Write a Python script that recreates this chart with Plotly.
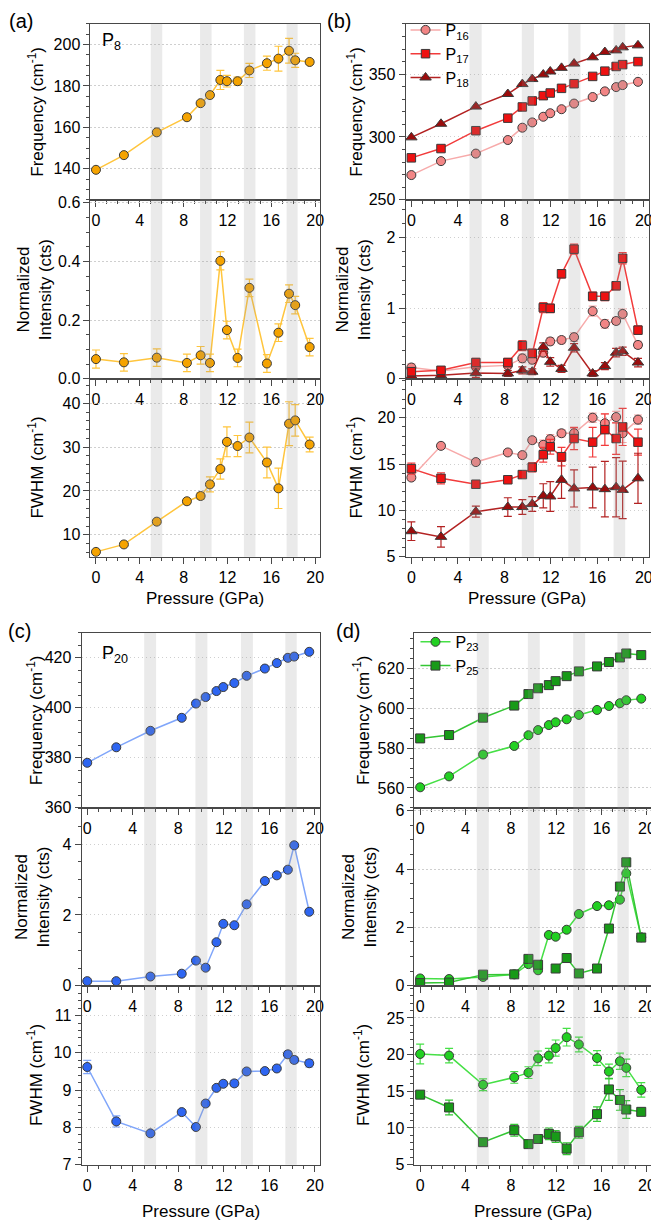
import plotly.graph_objects as go

# ---------------- data ----------------
pressure = [0, 2.55, 5.55, 8.3, 9.55, 10.4, 11.35, 11.95, 12.92, 14.0, 15.6, 16.65, 17.62, 18.18, 19.5]
bands = [(5.0, 6.05), (9.5, 10.55), (13.5, 14.55), (17.4, 18.4)]

# (a) P8
p8_freq = [139.5, 146.6, 157.6, 164.9, 171.7, 175.6, 182.9, 182.3, 182.3, 187.5, 191.0, 193.2, 197.0, 192.4, 191.6]
p8_freq_err = [0.8, 0.8, 0.8, 0.8, 0.8, 0.8, 4.6, 2.8, 2.0, 3.4, 3.4, 6.0, 6.0, 3.4, 1.0]
p8_int = [0.067, 0.056, 0.072, 0.054, 0.080, 0.054, 0.402, 0.166, 0.071, 0.310, 0.052, 0.157, 0.290, 0.251, 0.108]
p8_int_err = [0.031, 0.030, 0.030, 0.030, 0.030, 0.030, 0.031, 0.030, 0.030, 0.030, 0.030, 0.030, 0.030, 0.030, 0.030]
p8_fwhm = [6.1, 7.8, 13.0, 17.65, 18.85, 21.5, 25.0, 31.2, 30.25, 32.2, 26.5, 20.6, 35.35, 36.1, 30.6]
p8_fwhm_err = [0.4, 0.4, 0.5, 0.6, 0.8, 1.7, 2.3, 3.4, 2.4, 3.5, 3.5, 4.6, 5.0, 3.6, 1.7]

# (b) P16, P17, P18
p16_freq = [269.7, 280.8, 286.8, 297.6, 307.4, 311.6, 316.1, 318.9, 322.1, 326.6, 331.8, 336.3, 339.7, 341.3, 343.9]
p17_freq = [283.4, 290.8, 305.0, 315.0, 323.9, 328.7, 332.9, 335.0, 338.7, 342.4, 348.2, 352.4, 356.1, 357.6, 360.0]
p18_freq = [299.7, 310.5, 324.2, 334.2, 342.1, 346.1, 349.7, 352.1, 355.0, 358.4, 363.4, 367.6, 368.9, 371.3, 372.9]
p16_int = [0.16, 0.11, 0.17, 0.19, 0.29, 0.27, 0.37, 0.53, 0.55, 0.59, 0.96, 0.78, 0.82, 0.92, 0.48]
p17_int = [0.10, 0.12, 0.23, 0.23, 0.47, 0.36, 1.01, 1.00, 1.49, 1.84, 1.17, 1.17, 1.32, 1.71, 0.69]
p18_int = [0.04, 0.05, 0.08, 0.075, 0.12, 0.10, 0.45, 0.24, 0.14, 0.44, 0.075, 0.18, 0.37, 0.39, 0.23]
p16_int_err = [0.05, 0.04, 0.05, 0.05, 0.06, 0.06, 0.06, 0.05, 0.05, 0.06, 0.07, 0.06, 0.05, 0.07, 0.05]
p17_int_err = [0.04, 0.04, 0.06, 0.06, 0.07, 0.06, 0.07, 0.06, 0.06, 0.07, 0.06, 0.06, 0.06, 0.08, 0.06]
p18_int_err = [0.03, 0.03, 0.06, 0.04, 0.05, 0.04, 0.06, 0.06, 0.05, 0.06, 0.04, 0.05, 0.06, 0.06, 0.06]
p16_fwhm = [13.54, 16.96, 15.21, 16.25, 15.96, 17.57, 17.07, 17.68, 18.32, 18.32, 20.0, 19.4, 20.07, 18.32, 19.79]
p16_fwhm_err = [0.3, 0.3, 0.3, 0.3, 0.3, 0.3, 0.5, 0.5, 0.4, 0.5, 0.5, 1.0, 0.6, 1.0, 0.5]
p17_fwhm = [14.5, 13.46, 12.82, 13.3, 13.86, 14.64, 16.0, 16.86, 15.79, 17.75, 17.36, 18.71, 17.75, 19.0, 17.36]
p17_fwhm_err = [0.6, 0.6, 0.3, 0.3, 0.3, 0.5, 0.8, 0.8, 1.0, 1.2, 1.6, 1.7, 1.7, 2.0, 1.4]
p18_fwhm = [7.75, 7.14, 9.86, 10.36, 10.36, 10.68, 11.57, 11.5, 13.29, 12.36, 12.46, 12.29, 12.5, 12.21, 13.46]
p18_fwhm_err = [1.0, 1.1, 0.6, 1.0, 0.8, 0.8, 1.3, 1.6, 2.0, 2.0, 2.2, 3.0, 3.2, 3.1, 2.7]

# (c) P20
p20_freq = [378.0, 384.2, 390.8, 396.0, 401.7, 404.3, 406.7, 408.3, 409.9, 412.8, 415.7, 417.9, 420.0, 420.5, 422.4]
p20_int = [0.13, 0.13, 0.26, 0.34, 0.71, 0.51, 1.23, 1.75, 1.71, 2.30, 2.96, 3.12, 3.28, 3.97, 2.09]
p20_fwhm = [9.62, 8.16, 7.84, 8.41, 8.01, 8.64, 9.06, 9.17, 9.18, 9.50, 9.51, 9.58, 9.96, 9.81, 9.72]
p20_fwhm_err = [0.18, 0.15, 0.04, 0.06, 0.04, 0.04, 0.06, 0.05, 0.08, 0.06, 0.05, 0.05, 0.08, 0.08, 0.10]

# (d) P23, P25
p23_freq = [560.3, 565.8, 576.8, 581.1, 586.5, 589.1, 591.6, 593.0, 594.5, 596.7, 599.2, 601.2, 602.6, 604.1, 604.9]
p25_freq = [584.9, 586.6, 595.3, 601.4, 607.2, 610.1, 611.7, 613.7, 616.2, 618.6, 621.1, 623.3, 625.6, 627.6, 626.8]
p23_int = [0.25, 0.23, 0.30, 0.39, 0.74, 0.53, 1.74, 1.68, 1.92, 2.46, 2.73, 2.76, 2.95, 3.85, 1.66]
p25_int = [0.09, 0.11, 0.38, 0.39, 0.92, 0.72, None, 0.59, 0.95, 0.42, 0.59, 1.96, 3.40, 4.23, 1.65]
p23_fwhm = [20.09, 19.87, 15.9, 16.9, 17.55, 19.5, 19.87, 20.9, 22.38, 21.39, 19.55, 17.7, 19.1, 18.2, 15.2]
p23_fwhm_err = [1.35, 1.0, 0.8, 0.8, 0.8, 1.0, 1.0, 1.1, 1.2, 1.0, 1.0, 1.0, 1.1, 1.2, 1.0]
p25_fwhm = [14.55, 12.8, 8.06, 9.7, 7.8, 8.5, 9.2, 8.85, 7.18, 9.42, 11.89, 15.26, 13.82, 12.52, 12.2]
p25_fwhm_err = [0.5, 1.0, 0.5, 0.8, 0.4, 0.4, 0.8, 0.8, 0.8, 0.8, 1.0, 1.5, 1.4, 1.2, 0.3]

# ---------------- layout helpers ----------------
PAGE_W, PAGE_H = 659, 1230
OFF = 8  # default page body margin
W, H = PAGE_W - OFF, PAGE_H - OFF
FONT = "Liberation Sans, Arial, Helvetica, sans-serif"
AX = "#484848"


def fx(px):
    return (px - OFF) / W


def fy(py):
    return 1 - (py - OFF) / H


def sfx(k):
    return "" if k == 1 else str(k)


rows_top = [(19, 197), (197, 378), (378, 558)]
rows_bot = [(635, 812), (812, 992), (992, 1173)]
cols = {"a": (91, 322), "b": (408, 653), "c": (82, 322), "d": (417, 656)}

# subplot index: panel -> [freq, int, fwhm]
panels = {"a": [1, 2, 3], "b": [4, 5, 6], "c": [7, 8, 9], "d": [10, 11, 12]}

yspec = {
    1: dict(range=[125, 210], dtick=20, minor=5),
    2: dict(range=[0, 0.61], dtick=0.2, minor=0.05, fmt=".1f"),
    3: dict(range=[5, 45.6], dtick=10, minor=2),
    4: dict(range=[250, 390], dtick=50, minor=10),
    5: dict(range=[0, 2.54], dtick=1, minor=0.2),
    6: dict(range=[5, 24.2], dtick=5, minor=1),
    7: dict(range=[360, 430], dtick=20, minor=5),
    8: dict(range=[0, 5.03], dtick=2, minor=0.5),
    9: dict(range=[7, 11.8], dtick=1, minor=0.2),
    10: dict(range=[550, 638], dtick=20, minor=5),
    11: dict(range=[0, 6.1], dtick=2, minor=0.5),
    12: dict(range=[5, 29.4], dtick=5, minor=1),
}

fig = go.Figure()


def add(k, y, err, name, fill, line, symbol="circle", size=9, showlegend=False, legend="legend"):
    kw = {}
    if err is not None:
        kw["error_y"] = dict(type="data", array=err, visible=True, color=line, thickness=1.2, width=4)
    fig.add_trace(go.Scatter(
        x=pressure, y=y, mode="lines+markers", name=name,
        line=dict(color=line, width=1.5),
        marker=dict(symbol=symbol, size=size, color=fill, line=dict(color="#3a3a3a", width=1)),
        xaxis="x" + sfx(k), yaxis="y" + sfx(k), showlegend=showlegend, legend=legend, **kw))


# colours
A_FILL, A_LINE = "#F5A300", "#FFC53D"
C16_FILL, C16_LINE = "#F28585", "#F7AAAA"
C17_FILL, C17_LINE = "#EE1111", "#F23B3B"
C18_FILL, C18_LINE = "#9C0C0C", "#B32222"
C20_FILL, C20_LINE = "#2E66F2", "#80A6FA"
C23_FILL, C23_LINE = "#22D022", "#46E046"
C25_FILL, C25_LINE = "#189A18", "#34C634"

# (a)
add(1, p8_freq, p8_freq_err, "P8", A_FILL, A_LINE)
add(2, p8_int, p8_int_err, "P8", A_FILL, A_LINE)
add(3, p8_fwhm, p8_fwhm_err, "P8", A_FILL, A_LINE)

# (b)
add(4, p16_freq, None, "P<sub>16</sub>", C16_FILL, C16_LINE, "circle", 9, True, "legend")
add(4, p17_freq, None, "P<sub>17</sub>", C17_FILL, C17_LINE, "square", 8.5, True, "legend")
add(4, p18_freq, None, "P<sub>18</sub>", C18_FILL, C18_LINE, "triangle-up", 10, True, "legend")
add(5, p16_int, p16_int_err, "P16", C16_FILL, C16_LINE, "circle", 9)
add(5, p18_int, p18_int_err, "P18", C18_FILL, C18_LINE, "triangle-up", 10)
add(5, p17_int, p17_int_err, "P17", C17_FILL, C17_LINE, "square", 8.5)
add(6, p16_fwhm, p16_fwhm_err, "P16", C16_FILL, C16_LINE, "circle", 9)
add(6, p17_fwhm, p17_fwhm_err, "P17", C17_FILL, C17_LINE, "square", 8.5)
add(6, p18_fwhm, p18_fwhm_err, "P18", C18_FILL, C18_LINE, "triangle-up", 10)

# (c)
add(7, p20_freq, None, "P20", C20_FILL, C20_LINE)
add(8, p20_int, None, "P20", C20_FILL, C20_LINE)
add(9, p20_fwhm, p20_fwhm_err, "P20", C20_FILL, C20_LINE)

# (d)
add(10, p23_freq, None, "P<sub>23</sub>", C23_FILL, C23_LINE, "circle", 9, True, "legend2")
add(10, p25_freq, None, "P<sub>25</sub>", C25_FILL, C25_LINE, "square", 9, True, "legend2")
add(11, p23_int, None, "P23", C23_FILL, C23_LINE, "circle", 9)
add(11, p25_int, None, "P25", C25_FILL, C25_LINE, "square", 9)
add(12, p23_fwhm, p23_fwhm_err, "P23", C23_FILL, C23_LINE, "circle", 9)
add(12, p25_fwhm, p25_fwhm_err, "P25", C25_FILL, C25_LINE, "square", 9)

layout = dict(
    width=W, height=H, autosize=False,
    margin=dict(l=0, r=0, t=0, b=0),
    paper_bgcolor="white", plot_bgcolor="white",
    font=dict(family=FONT, size=16, color="black"),
    legend=dict(x=fx(408), y=fy(8), xanchor="left", yanchor="top", bgcolor="rgba(0,0,0,0)",
                font=dict(size=16), tracegroupgap=0, itemwidth=30),
    legend2=dict(x=fx(418), y=fy(627), xanchor="left", yanchor="top", bgcolor="rgba(0,0,0,0)",
                 font=dict(size=16), tracegroupgap=0, itemwidth=30),
)

shapes = []
annotations = []
titles = ["Frequency (cm<sup>-1</sup>)", "Normalized<br>Intensity (cts)", "FWHM (cm<sup>-1</sup>)"]
for p, ks in panels.items():
    rows = rows_top if p in "ab" else rows_bot
    c0, c1 = cols[p]
    for i, k in enumerate(ks):
        r0, r1 = rows[i]
        s = yspec[k]
        layout["xaxis" + sfx(k)] = dict(
            domain=[fx(c0), fx(c1)], range=[-0.5, 20.45], anchor="y" + sfx(k),
            tick0=0, dtick=4, ticks="outside", ticklen=6, tickwidth=1, tickcolor=AX,
            showline=True, linecolor=AX, linewidth=1, mirror=True,
            showgrid=False, zeroline=False, tickfont=dict(size=16, color="black"),
            minor=dict(tick0=0, dtick=1, ticks="outside", ticklen=3, tickcolor=AX, showgrid=False),
        )
        yax = dict(
            domain=[fy(r1), fy(r0)], range=s["range"], anchor="x" + sfx(k),
            tick0=0, dtick=s["dtick"], ticks="outside", ticklen=6, tickwidth=1, tickcolor=AX,
            showline=True, linecolor=AX, linewidth=1, mirror=True,
            showgrid=True, gridcolor="#cfcfcf", griddash="1.5px,2.5px", gridwidth=1,
            zeroline=False, tickfont=dict(size=16, color="black"),
            minor=dict(tick0=0, dtick=s["minor"], ticks="outside", ticklen=3, tickcolor=AX, showgrid=False),
        )
        if "fmt" in s:
            yax["tickformat"] = s["fmt"]
        layout["yaxis" + sfx(k)] = yax
        for b0, b1 in bands:
            shapes.append(dict(type="rect", xref="x" + sfx(k), yref="y" + sfx(k) + " domain",
                               x0=b0, x1=b1, y0=0, y1=1,
                               fillcolor="rgba(150,150,150,0.2)", line=dict(width=0), layer="above"))

        # y titles
        xt = {"a": 36, "b": 357, "c": 35, "d": 364}[p]
        if i == 1:
            xt -= 2
        annotations.append(dict(text=titles[i], x=fx(xt), y=fy((r0 + r1) / 2), xref="paper", yref="paper",
                                xanchor="center", yanchor="middle", textangle=-90, showarrow=False,
                                font=dict(size=17)))
    # pressure title
    ybot = 600 if p in "ab" else 1220
    annotations.append(dict(text="Pressure (GPa)", x=fx((c0 + c1) / 2), y=fy(ybot), xref="paper", yref="paper",
                            xanchor="center", yanchor="middle", showarrow=False, font=dict(size=17)))

# panel letters
for lab, (px, py) in {"(a)": (21, 16), "(b)": (341, 16), "(c)": (20, 633), "(d)": (350, 633)}.items():
    annotations.append(dict(text=lab, x=fx(px), y=fy(py), xref="paper", yref="paper", xanchor="center",
                            yanchor="middle", showarrow=False, font=dict(size=20)))

# mode labels
annotations.append(dict(text="P<sub>8</sub>", x=fx(101), y=fy(37), xref="paper", yref="paper", xanchor="left",
                        yanchor="middle", showarrow=False, font=dict(size=18)))
annotations.append(dict(text="P<sub>20</sub>", x=fx(101), y=fy(657), xref="paper", yref="paper", xanchor="left",
                        yanchor="middle", showarrow=False, font=dict(size=18)))

layout["shapes"] = shapes
layout["annotations"] = annotations
fig.update_layout(**layout)

fig.write_html("out.html")
